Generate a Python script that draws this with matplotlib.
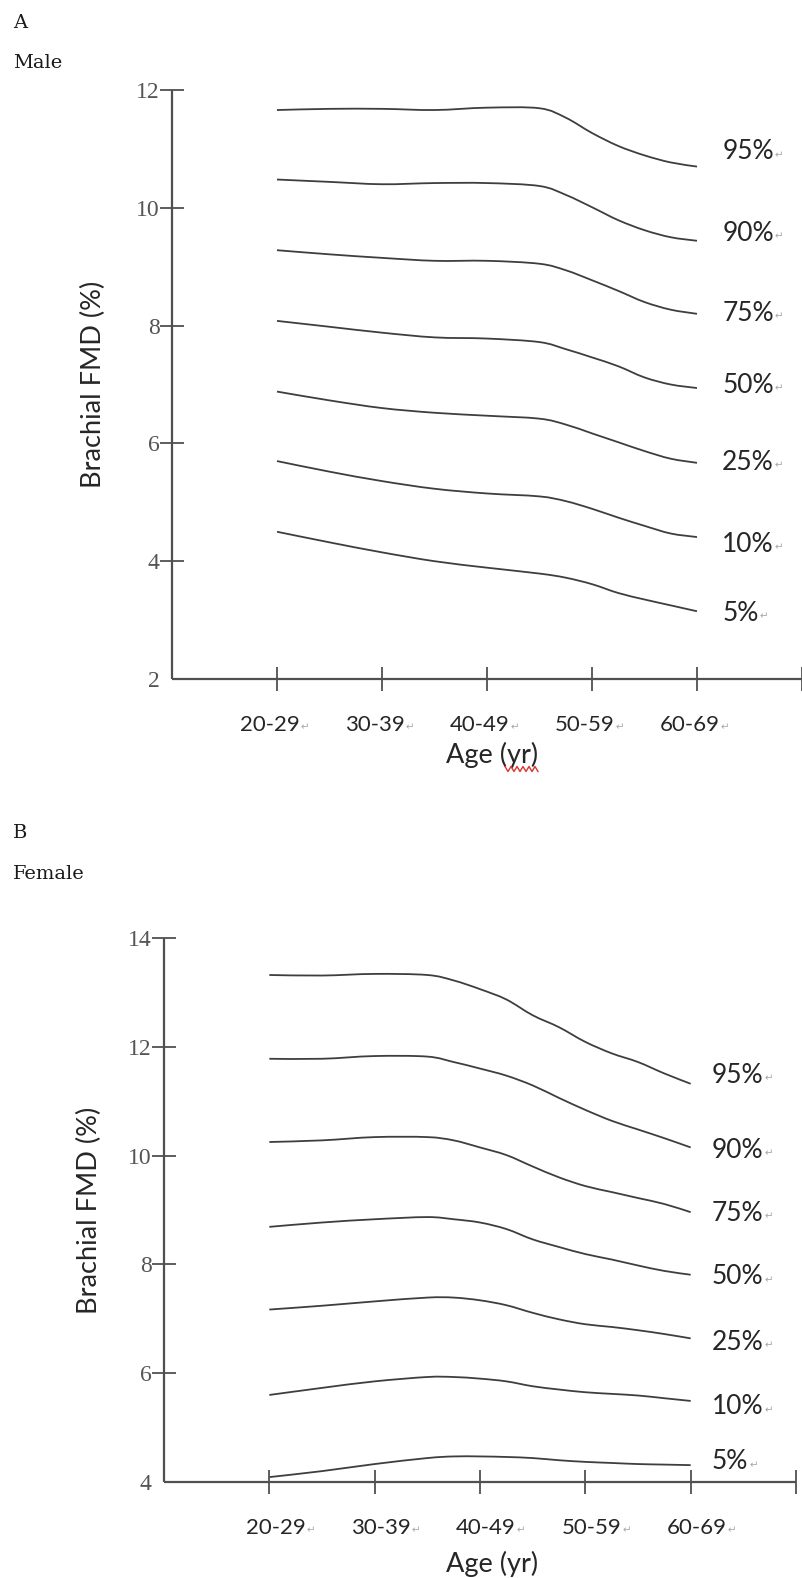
import numpy as np
import matplotlib
matplotlib.use("Agg")
import matplotlib.pyplot as plt
from matplotlib.path import Path
from matplotlib.patches import PathPatch
from matplotlib.lines import Line2D

# ---------------- data ----------------
age_groups = ['20-29', '30-39', '40-49', '50-59', '60-69']
pct_labels = ['95%', '90%', '75%', '50%', '25%', '10%', '5%']

# positions along the age axis (1 = 20-29 ... 5 = 60-69) where values were read
male_x = [1, 1.5, 2, 2.5, 3, 3.5, 3.75, 4, 4.25, 4.5, 4.75, 5]
male_95 = [11.66, 11.68, 11.68, 11.66, 11.70, 11.69, 11.53, 11.27, 11.05, 10.89, 10.77, 10.70]
male_90 = [10.48, 10.44, 10.40, 10.42, 10.42, 10.37, 10.22, 10.01, 9.79, 9.62, 9.50, 9.44]
male_75 = [9.28, 9.21, 9.15, 9.10, 9.10, 9.05, 8.94, 8.77, 8.59, 8.40, 8.27, 8.20]
male_50 = [8.08, 7.98, 7.88, 7.80, 7.78, 7.72, 7.60, 7.46, 7.31, 7.12, 7.00, 6.94]
male_25 = [6.88, 6.73, 6.60, 6.52, 6.47, 6.42, 6.32, 6.17, 6.02, 5.87, 5.74, 5.67]
male_10 = [5.70, 5.52, 5.36, 5.23, 5.15, 5.10, 5.02, 4.89, 4.74, 4.60, 4.47, 4.41]
male_5 = [4.50, 4.32, 4.15, 4.00, 3.89, 3.79, 3.72, 3.61, 3.46, 3.35, 3.25, 3.15]

female_x = [1, 1.5, 2, 2.5, 2.75, 3, 3.25, 3.5, 3.75, 4, 4.25, 4.5, 4.75, 5]
female_95 = [13.32, 13.31, 13.34, 13.32, 13.22, 13.06, 12.87, 12.58, 12.36, 12.09, 11.88, 11.72, 11.51, 11.32]
female_90 = [11.78, 11.78, 11.83, 11.82, 11.72, 11.60, 11.47, 11.29, 11.06, 10.84, 10.64, 10.48, 10.32, 10.15]
female_75 = [10.25, 10.28, 10.34, 10.34, 10.28, 10.15, 10.01, 9.80, 9.60, 9.44, 9.33, 9.22, 9.11, 8.96]
female_50 = [8.69, 8.77, 8.83, 8.87, 8.83, 8.77, 8.65, 8.46, 8.32, 8.19, 8.09, 7.98, 7.88, 7.81]
female_25 = [7.17, 7.24, 7.32, 7.39, 7.39, 7.34, 7.25, 7.11, 6.99, 6.90, 6.85, 6.79, 6.72, 6.64]
female_10 = [5.60, 5.73, 5.85, 5.93, 5.93, 5.90, 5.85, 5.76, 5.70, 5.65, 5.62, 5.59, 5.54, 5.49]
female_5 = [4.09, 4.20, 4.33, 4.44, 4.47, 4.47, 4.46, 4.44, 4.40, 4.37, 4.35, 4.33, 4.32, 4.31]

male_ticks = [2, 4, 6, 8, 10, 12]
female_ticks = [4, 6, 8, 10, 12, 14]

# label positions (y, data units) of the percentile labels at the right
male_label_y = [10.95, 9.57, 8.21, 6.99, 5.68, 4.28, 3.12]
female_label_y = [11.48, 10.10, 8.94, 7.77, 6.57, 5.38, 4.37]

# ---------------- style ----------------
W, H = 803, 1578
DPI = 100
LINE_C = '#3e3e3e'
AXIS_C = '#505050'
SANS = ['Lato', 'DejaVu Sans']
SERIF = ['Liberation Serif', 'DejaVu Serif']
CAP = ['DejaVu Serif']

fig = plt.figure(figsize=(W / DPI, H / DPI), dpi=DPI)
fig.patch.set_facecolor('white')


def px2pt(p):
    return p * 72.0 / DPI


def smooth_path(xs, ys):
    """Bezier path through the read points (like a 'smoothed line' option)."""
    p = np.column_stack([xs, ys]).astype(float)
    ext = np.vstack([p[0], p, p[-1]])
    verts = [p[0]]
    codes = [Path.MOVETO]
    for i in range(len(p) - 1):
        p0, p1, p2, p3 = ext[i], ext[i + 1], ext[i + 2], ext[i + 3]
        c1 = p1 + (p2 - p0) / 6.0
        c2 = p2 - (p3 - p1) / 6.0
        verts += [c1, c2, p2]
        codes += [Path.CURVE4] * 3
    return Path(verts, codes)


def make_panel(rect, ylim, yticks, xs, series, label_y, label_x, lab_right_px):
    ax = fig.add_axes(rect)
    ax.set_facecolor('none')
    for ys in series:
        ax.add_patch(PathPatch(smooth_path(xs, ys), facecolor='none',
                               edgecolor=LINE_C, lw=1.3))
    ax.set_xlim(0, 6)
    ax.set_ylim(*ylim)
    for s in ['top', 'right']:
        ax.spines[s].set_visible(False)
    for s in ['left', 'bottom']:
        ax.spines[s].set_color(AXIS_C)
        ax.spines[s].set_linewidth(1.6)
        ax.spines[s].set_capstyle('butt')
    ax.set_yticks(yticks)
    ax.set_yticklabels([str(t) for t in yticks], fontfamily=SERIF,
                       fontsize=17, color='#555555')
    ax.tick_params(axis='y', direction='inout', length=17, width=1.3,
                   color=AXIS_C, pad=0.5)
    # the lowest value carries only a label, no tick mark
    ax.yaxis.get_major_ticks()[0].tick1line.set_visible(False)
    ax.set_xticks([1, 2, 3, 4, 5, 6])
    ax.set_xticklabels([])
    ax.tick_params(axis='x', direction='inout', length=17, width=1.3,
                   color=AXIS_C)
    # age group labels with a Word paragraph mark after them
    for i, lab in enumerate(age_groups):
        ax.annotate(lab, xy=(i + 1, 0), xycoords=('data', 'axes fraction'),
                    xytext=(px2pt(lab_right_px), px2pt(-46)),
                    textcoords='offset points', ha='right', va='center',
                    fontfamily=SANS, fontsize=16, color='#262626')
        ax.annotate('\u21b5', xy=(i + 1, 0), xycoords=('data', 'axes fraction'),
                    xytext=(px2pt(lab_right_px + 1), px2pt(-48)),
                    textcoords='offset points', ha='left', va='center',
                    fontfamily='DejaVu Sans', fontsize=7.5, color='#a8a8a8')
    # percentile labels
    for lab, yv in zip(pct_labels, label_y):
        t = ax.text(label_x, yv, lab, ha='left', va='center', fontfamily=SANS,
                    fontsize=19, color='#262626')
        ax.annotate('\u21b5', xy=(1, 0.5), xycoords=t,
                    xytext=(px2pt(1), px2pt(-3)), textcoords='offset points',
                    ha='left', va='center', fontfamily='DejaVu Sans',
                    fontsize=7.5, color='#a8a8a8')
    return ax


# Panel A (male)
axA = make_panel([172 / W, 1 - 679 / H, 630 / W, 589 / H], (2, 12), male_ticks,
                 male_x, [male_95, male_90, male_75, male_50, male_25, male_10, male_5],
                 male_label_y, 5.24, 23)
axA.text(-0.125, 0.5, 'Brachial FMD (%)', transform=axA.transAxes, rotation=90,
         ha='center', va='center', fontfamily=SANS, fontsize=19.5, color='#262626')
axA.annotate('Age (yr)', xy=(3.05, 0), xycoords=('data', 'axes fraction'),
             xytext=(0, px2pt(-76)), textcoords='offset points', ha='center',
             va='center', fontfamily=SANS, fontsize=19.5, color='#262626')

# Panel B (female)
axB = make_panel([164 / W, 1 - 1482 / H, 632 / W, 544 / H], (4, 14), female_ticks,
                 female_x, [female_95, female_90, female_75, female_50, female_25,
                            female_10, female_5],
                 female_label_y, 5.20, 36)
axB.text(-0.118, 0.5, 'Brachial FMD (%)', transform=axB.transAxes, rotation=90,
         ha='center', va='center', fontfamily=SANS, fontsize=19.5, color='#262626')
axB.annotate('Age (yr)', xy=(3.11, 0), xycoords=('data', 'axes fraction'),
             xytext=(0, px2pt(-82)), textcoords='offset points', ha='center',
             va='center', fontfamily=SANS, fontsize=19.5, color='#262626')

# panel captions
for txt, ypx in [('A', 23), ('Male', 63), ('B', 833), ('Female', 874)]:
    fig.text(13 / W, 1 - ypx / H, txt, ha='left', va='center', fontfamily=CAP,
             fontsize=14, color='#1a1a1a')

# red spell-check squiggle under "yr" (decoration)
sq_x = np.linspace(505, 538, 12)
sq_y = 769 + np.where(np.arange(12) % 2 == 0, -2.5, 2.5)
fig.add_artist(Line2D(sq_x / W, 1 - sq_y / H, color='#d9342b', lw=1.0,
                      transform=fig.transFigure))

fig.savefig('out.png', dpi=DPI, facecolor='white')
